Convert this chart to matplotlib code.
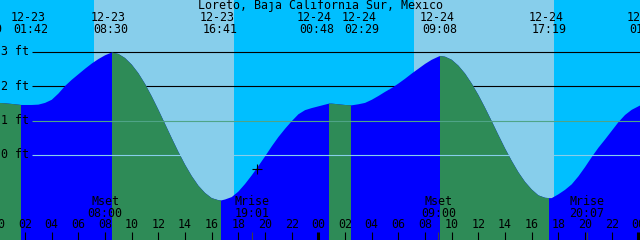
import matplotlib
matplotlib.use("Agg")
import matplotlib.pyplot as plt
import matplotlib.transforms as mtransforms

# tide level: hours from 12-23 00:00, height in feet
hours = [0, 0.5, 1, 1.5, 1.7, 2, 2.5, 3, 3.5, 4, 4.5, 5, 5.5, 6, 6.5, 7, 7.5, 8, 8.5,
         9, 9.5, 10, 10.5, 11, 11.5, 12, 12.5, 13, 13.5, 14, 14.5, 15, 15.5, 16, 16.5, 16.68,
         17, 17.5, 18, 18.5, 19, 19.5, 20, 20.5, 21, 21.5, 22, 22.5, 23, 23.5, 24, 24.5, 24.8,
         25, 25.5, 26, 26.5, 27, 27.5, 28, 28.5, 29, 29.5, 30, 30.5, 31, 31.5, 32, 32.5, 33, 33.13,
         33.5, 34, 34.5, 35, 35.5, 36, 36.5, 37, 37.5, 38, 38.5, 39, 39.5, 40, 40.5, 41, 41.32,
         41.5, 42, 42.5, 43, 43.5, 44, 44.5, 45, 45.5, 46, 46.5, 47, 47.5, 48, 48.2]
feet = [1.51, 1.50, 1.48, 1.46, 1.45, 1.45, 1.45, 1.46, 1.51, 1.60, 1.78, 2.00, 2.18, 2.34,
        2.50, 2.65, 2.78, 2.89, 2.97,
        2.93, 2.81, 2.62, 2.37, 2.06, 1.70, 1.31, 0.90, 0.49, 0.09, -0.28, -0.61, -0.89, -1.10,
        -1.25, -1.31, -1.32,
        -1.29, -1.22, -1.06, -0.84, -0.59, -0.32, -0.04, 0.25, 0.52, 0.76, 0.98, 1.18, 1.30,
        1.36, 1.41, 1.46, 1.49,
        1.49, 1.47, 1.45, 1.44, 1.47, 1.51, 1.60, 1.71, 1.83, 1.94, 2.07, 2.21, 2.36, 2.50,
        2.64, 2.76, 2.85, 2.87,
        2.85, 2.76, 2.59, 2.36, 2.07, 1.74, 1.37, 0.98, 0.58, 0.19, -0.17, -0.50, -0.78, -1.00,
        -1.17, -1.24, -1.25,
        -1.25, -1.14, -1.01, -0.85, -0.62, -0.35, -0.06, 0.21, 0.45, 0.70, 0.95, 1.16, 1.31,
        1.41, 1.45]

# falling tide (high -> low), drawn green
ebb_start = [-0.02, 8.50, 24.80, 33.13]
ebb_end = [1.70, 16.68, 26.48, 41.32]

# daylight
sunrise = [7.17, 31.17]
sunset = [17.67, 41.67]

# top labels (high / low tide events)
event_x = [-1.0, 2.45, 8.45, 16.62, 23.9, 27.25, 33.12, 41.3, 48.6]
event_date = ["12-22", "12-23", "12-23", "12-23", "12-24", "12-24", "12-24", "12-24", "12-25"]
event_time = ["23:59", "01:42", "08:30", "16:41", "00:48", "02:29", "09:08", "17:19", "01:34"]

# moon rise / set
moon_x = [8.0, 19.02, 33.0, 44.12]
moon_name = ["Mset", "Mrise", "Mset", "Mrise"]
moon_time = ["08:00", "19:01", "09:00", "20:07"]

level_ticks = [3, 2, 1, 0]
hour_ticks = list(range(0, 49, 2))
hour_labels = ["%02d" % (h % 24) for h in hour_ticks]

night_sky = "#00bfff"
day_sky = "#87ceeb"
flood = "#0000ff"
ebb = "#2e8b57"
fnt = dict(family="DejaVu Sans Mono", fontsize=8.4)

t0 = 0.12
fig = plt.figure(figsize=(6.4, 2.4), dpi=100)
ax = fig.add_axes([0, 0, 1, 1])
ax.set_xlim(t0, t0 + 48)
ax.set_ylim(-2.464, 4.493)
ax.axis("off")

def ypx(p):
    # pixel row -> axes fraction
    return 1 - p / 240.0

trans = mtransforms.blended_transform_factory(ax.transData, ax.transAxes)

ax.axvspan(t0 - 1, t0 + 49, color=night_sky, lw=0, zorder=0)
for a, b in zip(sunrise, sunset):
    ax.axvspan(a, b, color=day_sky, lw=0, zorder=1)

line_start = t0 + 32 / 13.333
for lv in level_ticks[:2]:
    ax.hlines(lv, line_start, t0 + 49, color="black", lw=0.8, zorder=2)

water = ax.fill_between(hours, feet, -3, color=flood, lw=0, zorder=3)
clip = water.get_paths()[0]
for a, b in zip(ebb_start, ebb_end):
    sp = ax.axvspan(a, b, color=ebb, lw=0, zorder=4)
    sp.set_clip_path(clip, ax.transData)

ax.hlines(1, line_start, t0 + 49, color="#4fa487", lw=0.8, zorder=5)
ax.hlines(0, line_start, t0 + 49, color=day_sky, lw=0.8, zorder=5)

for lv in level_ticks:
    ax.text(t0 + 0.05, lv, "%d ft" % lv, ha="left", va="center", zorder=6, **fnt)

fig.text(0.5, ypx(5.5), "Loreto, Baja California Sur, Mexico", ha="center", va="center", **fnt)
for x, d, tm in zip(event_x, event_date, event_time):
    ax.text(x - 0.2, ypx(17.5), d, transform=trans, ha="center", va="center", **fnt)
    ax.text(x, ypx(29.5), tm, transform=trans, ha="center", va="center", **fnt)

for x, n, tm in zip(moon_x, moon_name, moon_time):
    ax.text(x, ypx(201.5), n, transform=trans, ha="center", va="center", zorder=6, **fnt)
    ax.text(x, ypx(213.5), tm, transform=trans, ha="center", va="center", zorder=6, **fnt)
    ax.vlines(x, (155 - 232) / 34.5, -2.5, color="#404040", lw=0.8, zorder=6)

for h, lab in zip(hour_ticks, hour_labels):
    ax.text(h, ypx(225), lab, transform=trans, ha="center", va="center", zorder=6, **fnt)
    w = 2.2 if h % 24 == 0 else 0.8
    ax.vlines(h, (155 - 232) / 34.5, -2.5, color="black", lw=w, zorder=6)

# current time mark
ax.plot(19.4, -0.41, marker="+", color="black", ms=7, mew=0.8, zorder=6)

fig.savefig("out.png", dpi=100)
